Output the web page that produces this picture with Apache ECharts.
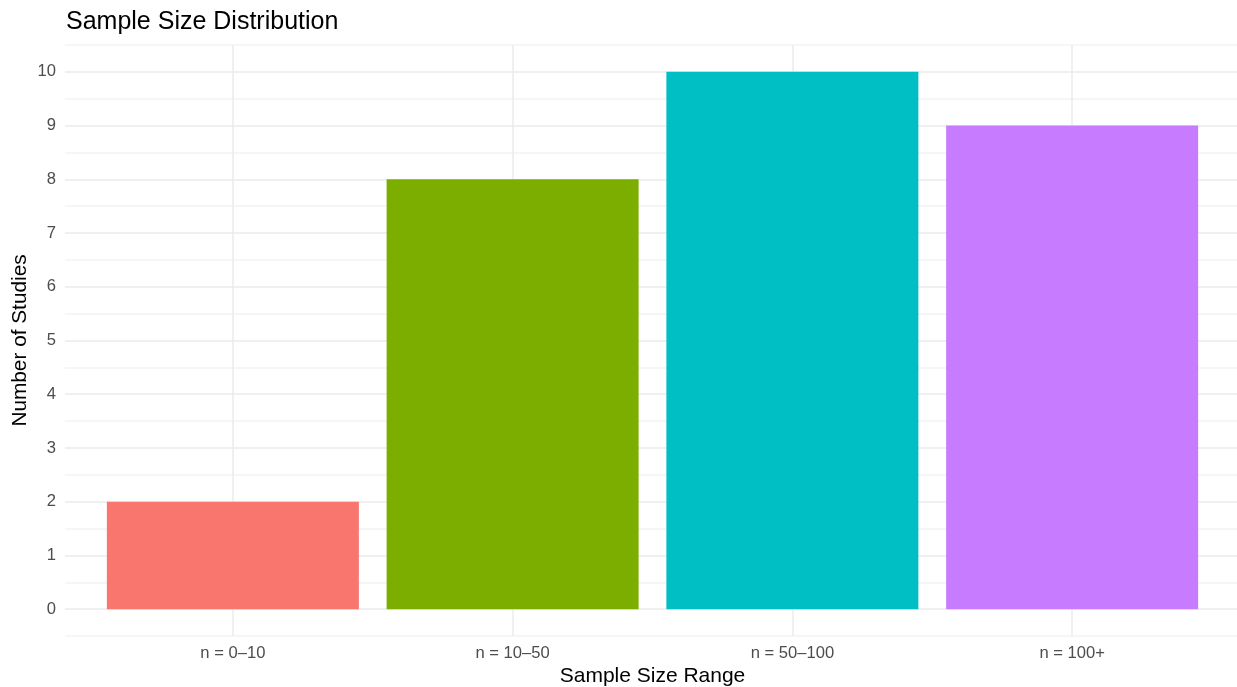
<!DOCTYPE html>
<html>
<head>
<meta charset="utf-8">
<title>Sample Size Distribution</title>
<script src="https://cdn.jsdelivr.net/npm/echarts@6/dist/echarts.min.js"></script>
<style>
  html, body { margin: 0; padding: 0; background: #ffffff; }
  #chart { width: 1237px; height: 687px; }
</style>
</head>
<body>
<div id="chart"></div>
<script>
// Study counts per sample-size bucket
const categories = ['n = 0–10', 'n = 10–50', 'n = 50–100', 'n = 100+'];
const studyCounts = [2, 8, 10, 9];
const barColors = ['#F8766D', '#7CAE00', '#00BFC4', '#C77CFF'];
const yTickValues = [0, 1, 2, 3, 4, 5, 6, 7, 8, 9, 10];

const FONT = '"Liberation Sans", Arial, Helvetica, sans-serif';
const isWhole = v => Math.abs(v - Math.round(v)) < 1e-6;

// Bars sit at positions 1..n on a continuous axis padded by 0.6 on each side
const barData = categories.map((c, i) => ({
  value: [i + 1, studyCounts[i]],
  itemStyle: { color: barColors[i] }
}));

const chart = echarts.init(document.getElementById('chart'), null, { renderer: 'canvas' });
chart.setOption({
  backgroundColor: '#ffffff',
  animation: false,
  title: {
    text: 'Sample Size Distribution',
    left: 61,
    top: 5,
    textStyle: { fontFamily: FONT, fontSize: 25, fontWeight: 'normal', color: '#000000' }
  },
  grid: {
    left: 65, right: -3, top: 45, bottom: 51,
    containLabel: false,
    outerBoundsMode: 'none'
  },
  xAxis: {
    type: 'value',
    min: 0.4,
    max: 4.6,
    interval: 0.2,
    name: 'Sample Size Range',
    nameLocation: 'middle',
    nameGap: 30,
    nameMoveOverlap: false,
    nameTextStyle: { fontFamily: FONT, fontSize: 21, color: '#000000' },
    axisLine: { show: false },
    axisTick: { show: false },
    axisLabel: {
      margin: 9,
      fontFamily: FONT,
      fontSize: 16.6,
      color: '#4D4D4D',
      formatter: v => (isWhole(v) && Math.round(v) >= 1 && Math.round(v) <= categories.length)
        ? categories[Math.round(v) - 1] : ''
    },
    // one gridline per category centre (ticks every 0.2, lines only on whole numbers)
    splitLine: {
      show: true,
      lineStyle: { width: 1.5, color: ['rgba(0,0,0,0)', 'rgba(0,0,0,0)', 'rgba(0,0,0,0)', '#EBEBEB', 'rgba(0,0,0,0)'] }
    }
  },
  yAxis: {
    type: 'value',
    min: -0.5,
    max: 10.5,
    interval: 0.5,
    name: 'Number of Studies',
    nameLocation: 'middle',
    nameGap: 34,
    nameMoveOverlap: false,
    nameRotate: 90,
    nameTextStyle: { fontFamily: FONT, fontSize: 20.8, color: '#000000' },
    axisLine: { show: false },
    axisTick: { show: false },
    axisLabel: {
      margin: 9,
      fontFamily: FONT,
      fontSize: 16.6,
      color: '#4D4D4D',
      formatter: v => (isWhole(v) && yTickValues.includes(Math.round(v))) ? String(Math.round(v)) : ''
    },
    // major lines at integers, lighter minor lines at halves
    splitLine: {
      show: true,
      lineStyle: { width: 1.5, color: ['#F3F3F3', '#EBEBEB'] }
    }
  },
  series: [{
    type: 'bar',
    data: barData,
    barWidth: 252,
    z: 3
  }]
});
</script>
</body>
</html>
